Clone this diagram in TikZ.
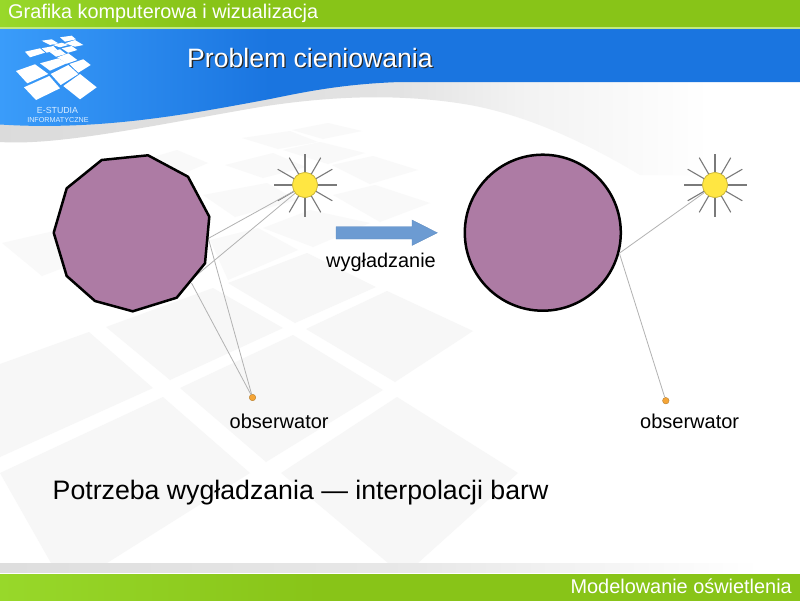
\documentclass[tikz,border=0pt]{standalone}
\usepackage{fontspec}
\setmainfont{Liberation Sans}
\usetikzlibrary{calc}
\definecolor{gLight}{HTML}{98D82A}
\definecolor{gDark}{HTML}{88C418}
\definecolor{bLight}{HTML}{3A9CFA}
\definecolor{bDark}{HTML}{1A75E0}
\definecolor{tileC}{HTML}{F7F7F7}
\definecolor{tileU}{HTML}{F9F9F9}
\definecolor{plum}{HTML}{AD7BA4}
\definecolor{sunC}{HTML}{FFE642}
\definecolor{sunE}{HTML}{C9B53A}
\definecolor{obsC}{HTML}{F5A536}
\definecolor{obsE}{HTML}{B88030}
\definecolor{arrC}{HTML}{6C9BD2}
\definecolor{arrE}{HTML}{5E8CC2}
\definecolor{logoT}{HTML}{DCEEFF}
\tikzset{
  tile/.style={fill=tileC,draw=none},
  tileup/.style={fill=tileU,draw=none},
  logotile/.style={fill=white,draw=none},
  body/.style={fill=plum,draw=black,line width=2.5pt,line join=round},
  sunbody/.style={circle,fill=sunC,draw=sunE,line width=0.6pt,minimum size=25pt,inner sep=0pt},
  ray/.style={draw=black!52,line width=1.1pt},
  sight/.style={draw=black!30,line width=0.8pt},
  obsdot/.style={circle,fill=obsC,draw=obsE,line width=0.4pt,minimum size=6.5pt,inner sep=0pt},
  lab/.style={anchor=base west,inner sep=0pt,font=\fontsize{20}{22}\selectfont},
}
\begin{document}
\begin{tikzpicture}[x=1pt,y=-1pt]
\useasboundingbox (0,0) rectangle (800,600);
\fill[white] (0,0) rectangle (800,600);
% background tiles
\foreach \p in {
 {(0,473)--(163,397)--(250,473)--(107,563)--(51,563)--(0,473)},
 {(397,397)--(518,473)--(418,563)--(388,563)--(281,473)},
 {(0,364)--(89,332)--(153,388)--(0,457)},
 {(293,335)--(383,390)--(266,462)--(180,388)},
 {(387,291)--(473,331)--(395,382)--(306,329)},
 {(228,283)--(307,253)--(376,287)--(295,323)},
 {(213,288)--(283,328)--(170,380)--(106,327)}
}{ \expandafter\fill\expandafter[tile] \p -- cycle; }
\foreach \p in {
 {(292,130)--(328,123)--(362,131)--(323,139)},
 {(242,138)--(290,131)--(318,142)--(278,149)},
 {(283,150)--(320,142)--(365,153)--(328,164)},
 {(225,165)--(273,153)--(306,167)--(263,178)},
 {(332,165)--(373,156)--(418,170)--(370,184)},
 {(203,195)--(267,183)--(297,200)--(235,217)},
 {(333,195)--(375,185)--(430,203)--(380,222)},
 {(263,228)--(310,210)--(370,223)--(313,247)},
 {(210,240)--(258,228)--(298,250)--(228,280)},
 {(177,150)--(208,163)--(180,175)--(150,158)},
 {(2,243)--(80,225)--(110,250)--(42,276)}
}{ \expandafter\fill\expandafter[tileup] \p -- cycle; }
% grey swoosh under the blue band
\begin{scope}
\clip (0,110) -- (0,142) .. controls (60,146) and (160,124) .. (260,107)
  .. controls (330,96) and (400,93) .. (470,105)
  .. controls (530,116) and (590,145) .. (640,175) -- (800,175) -- (800,80) -- (0,80) -- cycle;
\shade[left color=black!14,right color=black!11] (0,80) rectangle (400,180);
\shade[left color=black!11,right color=black!5] (399.5,80) rectangle (520,180);
\shade[left color=black!5,right color=white] (519.5,80) rectangle (710,180);
\end{scope}
% blue band
\begin{scope}
\clip (0,27) -- (800,27) -- (800,82) -- (400,82)
  .. controls (340,84) and (300,93) .. (270,99)
  .. controls (190,114) and (100,131) .. (0,124.5) -- cycle;
\shade[left color=bLight,right color=bDark] (0,27) rectangle (270,135);
\fill[bDark] (269.5,27) rectangle (800,135);
\end{scope}
% top bar
\shade[left color=gLight,right color=gDark] (0,0) rectangle (200,27);
\fill[gDark] (199.5,0) rectangle (800,27);
\fill[gLight!60!white] (0,27) rectangle (800,28.5);
% bottom bar
\shade[left color=black!13,right color=black!9] (0,563) rectangle (420,573);
\shade[left color=black!9,right color=white] (419.5,563) rectangle (760,573);
\fill[white] (0,573) rectangle (800,574);
\begin{scope}
\clip (0,574) rectangle (800,600);
\fill[gDark] (0,574) rectangle (800,604);
\shade[left color=gLight,right color=gDark] (0,574) rectangle (320,604);
\end{scope}
% logo
\foreach \p in {
 {(16,71)--(35,64.3)--(48.3,74)--(27.3,83.3)},
 {(24,87.3)--(49.3,76)--(60,88.3)--(36,100)},
 {(63.3,86)--(80,74)--(96.7,87.3)--(80,99.3)},
 {(50.7,74)--(68.3,65)--(78.3,74)--(60.7,85)},
 {(40,63.3)--(58.3,58.3)--(66.7,63.3)--(50,70.7)},
 {(69.3,64)--(83.3,59.3)--(90.7,65)--(78.3,72.7)},
 {(57.3,57.3)--(68.3,53.3)--(77.3,60)--(66.7,63.7)},
 {(25,51.7)--(40,48.3)--(45,52.7)--(30,57.3)},
 {(41.7,48.3)--(53.3,46)--(57.3,50)--(46.7,52.7)},
 {(49.3,51.7)--(60,49.3)--(66,54)--(56,56.7)},
 {(61.7,48.3)--(71.7,46)--(77.3,50)--(68.3,52.7)},
 {(52.7,45)--(61.7,42.7)--(68.3,45)--(60,47.3)},
 {(65,43.3)--(75,40)--(83.3,45)--(75,46.7)},
 {(41.7,40.7)--(51.7,39.3)--(58.3,43.3)--(50,45)},
 {(60,37.3)--(71.7,35.7)--(76,39.3)--(65,41.7)}
}{ \expandafter\fill\expandafter[logotile] \p -- cycle; }
\node[anchor=base,inner sep=0pt,text=logoT,font=\fontsize{8.8}{10}\selectfont] (logoA) at (57.5,113) {E-STUDIA};
\node[anchor=base,inner sep=0pt,text=logoT,font=\fontsize{7.2}{9}\selectfont] (logoB) at (58,122) {INFORMATYCZNE};
% bar texts
\node[anchor=base west,inner sep=0pt,text=white,font=\fontsize{19.85}{22}\selectfont] (head) at (8,18.5) {Grafika komputerowa i wizualizacja};
\node[anchor=base east,inner sep=0pt,text=white,font=\fontsize{19.9}{22}\selectfont] (foot) at (792,593) {Modelowanie oświetlenia};
\node[anchor=base west,inner sep=0pt,text=black!85,font=\fontsize{26.6}{30}\selectfont] (titleS) at (188.3,68.3) {Problem cieniowania};
\node[anchor=base west,inner sep=0pt,text=white,font=\fontsize{26.6}{30}\selectfont] (title) at (187,67) {Problem cieniowania};
% left figure
\node[sunbody] (sunL) at (305,185) {};
\foreach \a in {0,30,...,330} \draw[ray] (sunL.\a) -- ($(sunL)+(\a:31.5pt)$);
\node[obsdot] (obsL) at (252.5,397.5) {};
\coordinate (hitA) at (208.5,238.3);
\coordinate (hitB) at (192,279);
\coordinate (hitC) at (208.3,238.3);
\coordinate (hitD) at (191.5,283);
\draw[sight] (sunL) -- (hitA);
\draw[sight] (sunL) -- (hitB);
\draw[sight] (obsL) -- (hitC);
\draw[sight] (obsL) -- (hitD);
\draw[body] (101.7,160) -- (148,155.3) -- (188,176.7) -- (209.3,216.7) -- (205,263.3) -- (176.7,297.7) -- (132.7,311.3) -- (95,301) -- (66.7,276) -- (53.7,232.7) -- (66.7,188.3) -- cycle;
\node[sunbody] at (sunL) {};
\node[lab] (obsTL) at (229.5,428) {obserwator};
% arrow
\path[fill=arrC,draw=arrE,line width=0.4pt] (336,226.7) -- (412,226.7) -- (412,220) -- (437.3,232.8) -- (412,245.4) -- (412,239) -- (336,239) -- cycle;
\node[anchor=base,inner sep=0pt,font=\fontsize{19.9}{22}\selectfont] (smooth) at (381,267) {wygładzanie};
% right figure
\node[circle,body,minimum size=156pt,inner sep=0pt] (circR) at (542.8,232.7) {};
\node[sunbody] (sunR) at (715,185) {};
\foreach \a in {0,30,...,330} \draw[ray] (sunR.\a) -- ($(sunR)+(\a:31.5pt)$);
\node[obsdot] (obsR) at (665.8,400.7) {};
\coordinate (hitR) at (circR.-15);
\draw[sight] (sunR) -- (hitR);
\draw[sight] (obsR) -- (hitR);
\node[sunbody] at (sunR) {};
\node[lab] (obsTR) at (640,428) {obserwator};
% caption
\node[anchor=base west,inner sep=0pt,font=\fontsize{26.7}{30}\selectfont] (cap) at (52.5,499) {Potrzeba wygładzania — interpolacji barw};
\end{tikzpicture}
\end{document}
